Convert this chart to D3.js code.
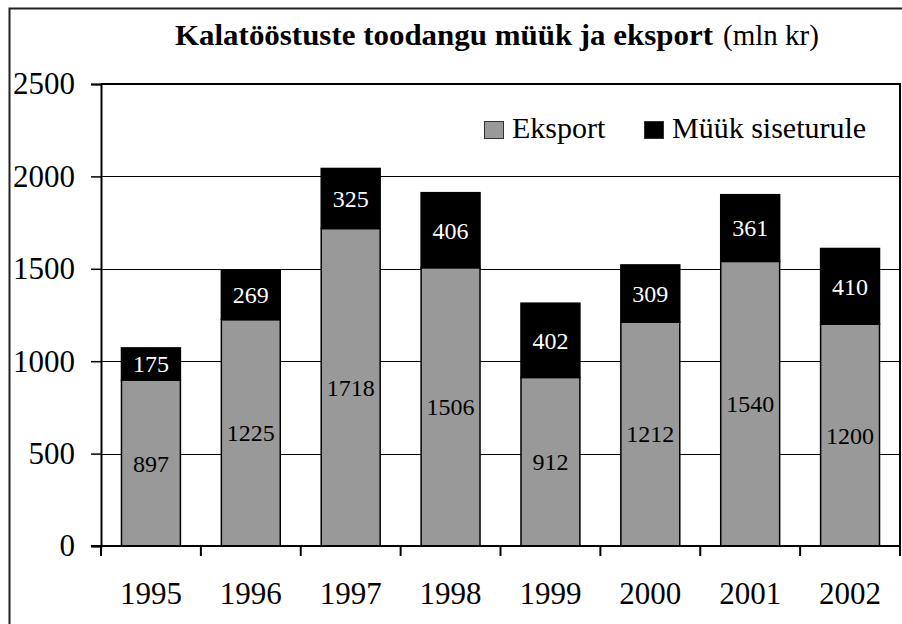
<!DOCTYPE html>
<html>
<head>
<meta charset="utf-8" />
<title>Kalatööstuste toodangu müük ja eksport</title>
<script src="https://cdn.jsdelivr.net/npm/d3@7"></script>
<style>
  body { margin: 0; background: #fff; }
  svg { display: block; font-family: "Liberation Serif", "Times New Roman", serif; }
  .axis text { font-size: 31px; fill: #000; }
  .axis path, .axis line { stroke: #000; }
</style>
</head>
<body>
<script>
// andmed
var years = ["1995", "1996", "1997", "1998", "1999", "2000", "2001", "2002"];
var eksport = [897, 1225, 1718, 1506, 912, 1212, 1540, 1200];
var myyk = [175, 269, 325, 406, 402, 309, 361, 410];
var yTicks = [0, 500, 1000, 1500, 2000, 2500];
var seriesNames = ["Eksport", "Müük siseturule"];
var seriesColors = ["#999999", "#000000"];

var W = 902, H = 624;
var margin = {top: 84, right: 2, bottom: 78, left: 101},
    width = W - margin.left - margin.right,
    height = H - margin.top - margin.bottom;

var svgRoot = d3.select("body").append("svg")
    .attr("width", W)
    .attr("height", H);

// outer frame
svgRoot.append("rect")
    .attr("x", 9.5).attr("y", 8.5)
    .attr("width", 900).attr("height", 620)
    .attr("fill", "none")
    .attr("stroke", "#222")
    .attr("stroke-width", 2);

var svg = svgRoot.append("g")
    .attr("transform", "translate(" + margin.left + "," + margin.top + ")");

var x = d3.scaleBand()
    .domain(years)
    .range([0, width])
    .paddingInner(0.41)
    .paddingOuter(0.205);

var y = d3.scaleLinear()
    .domain([0, 2500])
    .range([height, 0]);

// gridlines
svg.selectAll(".grid")
  .data(yTicks.filter(function(d) { return d > 0 && d < 2500; }))
  .enter().append("line")
    .attr("x1", 0).attr("x2", width)
    .attr("y1", function(d) { return Math.round(y(d)) + 0.5; })
    .attr("y2", function(d) { return Math.round(y(d)) + 0.5; })
    .attr("stroke", "#000")
    .attr("stroke-width", 1);

// plot border top & right
svg.append("path")
    .attr("d", "M0,0H" + width + "V" + height)
    .attr("fill", "none")
    .attr("stroke", "#000")
    .attr("stroke-width", 2);

// stacked data
var stacked = years.map(function(yr, i) {
  return [
    {year: yr, y0: 0, y1: eksport[i], v: eksport[i], s: 0},
    {year: yr, y0: eksport[i], y1: eksport[i] + myyk[i], v: myyk[i], s: 1}
  ];
});

var groups = svg.selectAll(".bar")
  .data(stacked)
  .enter().append("g");

groups.selectAll("rect")
  .data(function(d) { return d; })
  .enter().append("rect")
    .attr("x", function(d) { return x(d.year); })
    .attr("y", function(d) { return y(d.y1); })
    .attr("width", x.bandwidth())
    .attr("height", function(d) { return y(d.y0) - y(d.y1); })
    .attr("fill", function(d) { return seriesColors[d.s]; })
    .attr("stroke", "#000")
    .attr("stroke-width", 1.5);

groups.selectAll("text")
  .data(function(d) { return d; })
  .enter().append("text")
    .attr("x", function(d) { return x(d.year) + x.bandwidth() / 2; })
    .attr("y", function(d) { return (y(d.y0) + y(d.y1)) / 2; })
    .attr("dy", "0.35em")
    .attr("text-anchor", "middle")
    .style("font-size", "24px")
    .attr("fill", function(d) { return d.s == 1 ? "#fff" : "#000"; })
    .text(function(d) { return d.v; });

// Y axis
var yAxis = svg.append("g")
    .attr("class", "axis")
    .call(d3.axisLeft(y).tickValues(yTicks).tickSize(10).tickPadding(16).tickFormat(d3.format("d")));
yAxis.attr("font-family", null);
yAxis.select(".domain").attr("stroke-width", 2);
yAxis.selectAll(".tick line").attr("stroke-width", 1.5);

// X axis
var xAxis = svg.append("g")
    .attr("class", "axis")
    .attr("transform", "translate(0," + height + ")")
    .call(d3.axisBottom(x).tickSize(0).tickPadding(0));
xAxis.attr("font-family", null);
xAxis.select(".domain").remove();
xAxis.selectAll("text").attr("y", 58).attr("dy", 0);
svg.append("line")
    .attr("x1", -10).attr("x2", width)
    .attr("y1", height).attr("y2", height)
    .attr("stroke", "#000").attr("stroke-width", 2);
// tick marks between categories
svg.selectAll(".xtick")
  .data(d3.range(years.length + 1))
  .enter().append("line")
    .attr("x1", function(i) { return i * x.step(); })
    .attr("x2", function(i) { return i * x.step(); })
    .attr("y1", height).attr("y2", height + 10)
    .attr("stroke", "#000").attr("stroke-width", 2);

// title
var title = svgRoot.append("text")
    .attr("x", 175).attr("y", 45)
    .style("font-size", "30px");
title.append("tspan").style("font-weight", "bold")
    .attr("textLength", 538).attr("lengthAdjust", "spacingAndGlyphs")
    .text("Kalatööstuste toodangu müük ja eksport");
title.append("tspan").attr("x", 723).style("font-size", "29px")
    .text("(mln kr)");

// legend
var legendX = [484, 644];
var legend = svgRoot.selectAll(".legend")
  .data(seriesNames)
  .enter().append("g")
    .attr("transform", function(d, i) { return "translate(" + legendX[i] + ",120)"; });
legend.append("rect")
    .attr("x", 0.5).attr("y", 1.5)
    .attr("width", 19).attr("height", 17)
    .attr("fill", function(d, i) { return seriesColors[i]; })
    .attr("stroke", "#333");
legend.append("text")
    .attr("x", 28)
    .attr("y", 18)
    .style("font-size", "30px")
    .text(function(d) { return d; });
</script>
</body>
</html>
